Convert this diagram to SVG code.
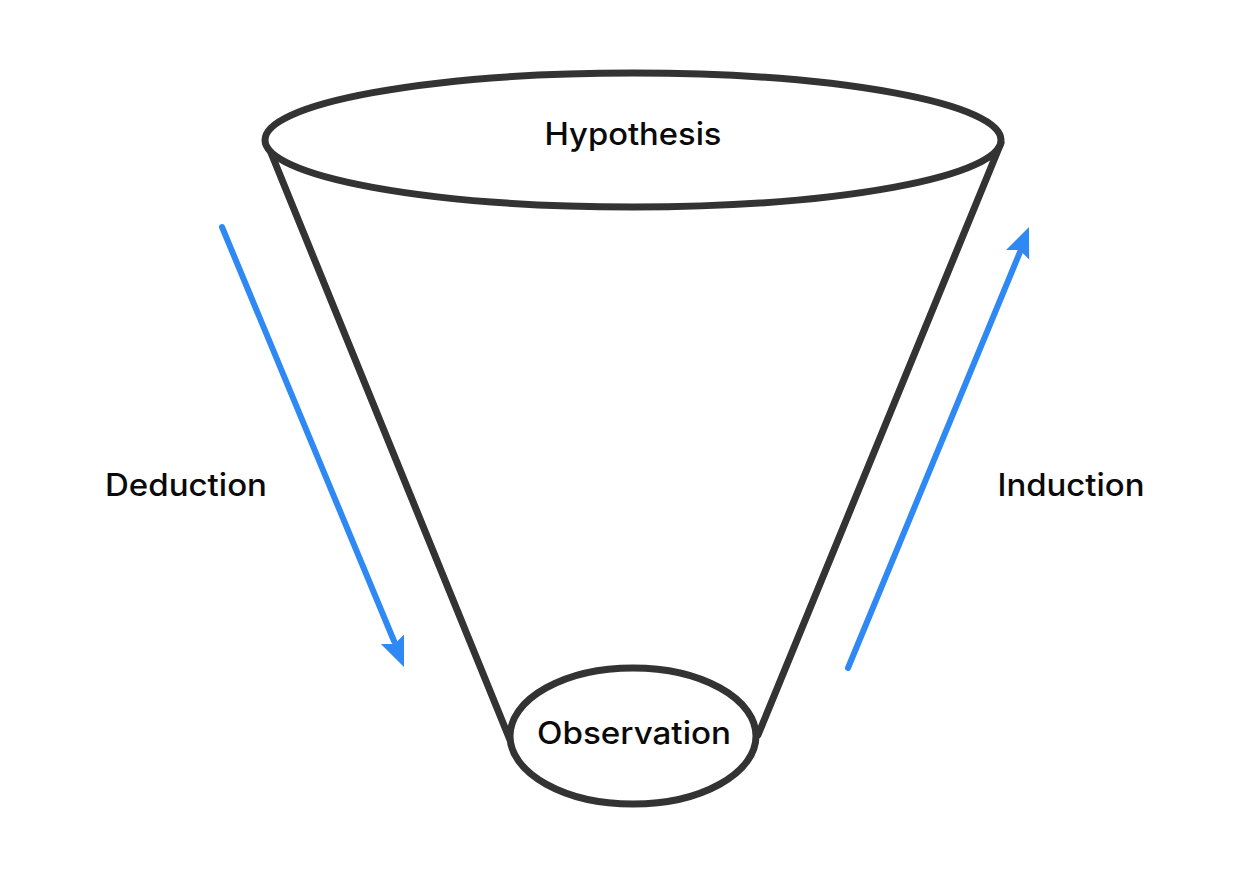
<svg xmlns="http://www.w3.org/2000/svg" width="1250" height="882" viewBox="0 0 1250 882">
<defs>
<style>
.shape{fill:none;stroke:#333333;stroke-width:7;stroke-linecap:round}
.ell{fill:#ffffff;stroke:#333333;stroke-width:7}
.arrow{fill:none;stroke:#2f89f5;stroke-width:6;stroke-linecap:round}
.head{fill:#2f89f5;stroke:none}
.lbl{font-family:Inter,"Noto Sans","Liberation Sans",sans-serif;font-size:31px;font-weight:500;fill:#0a0a0a;text-anchor:middle}
</style>
</defs>
<rect width="1250" height="882" fill="#ffffff"/>
<g id="connectors">
<line class="shape" x1="267" y1="143" x2="510" y2="740"/>
<line class="shape" x1="1001" y1="143" x2="758" y2="735"/>
<line class="arrow" x1="222" y1="227" x2="394" y2="641"/>
<polygon class="head" points="404,667 380.9,644.1 394.5,643.9 404,634.5"/>
<line class="arrow" x1="848" y1="668" x2="1020" y2="252"/>
<polygon class="head" points="1029,227 1029.2,259.4 1019.5,250.1 1006,250"/>
</g>
<g id="hypothesis">
<ellipse class="ell" cx="633" cy="140" rx="368" ry="67"/>
<text class="lbl" x="633" y="145" textLength="177" lengthAdjust="spacingAndGlyphs">Hypothesis</text>
</g>
<g id="observation">
<ellipse class="ell" cx="633" cy="736" rx="123" ry="68"/>
<text class="lbl" x="634" y="744" textLength="194" lengthAdjust="spacingAndGlyphs">Observation</text>
</g>
<g id="deduction">
<text class="lbl" x="186" y="496" textLength="162" lengthAdjust="spacingAndGlyphs">Deduction</text>
</g>
<g id="induction">
<text class="lbl" x="1071" y="496" textLength="147" lengthAdjust="spacingAndGlyphs">Induction</text>
</g>
</svg>
